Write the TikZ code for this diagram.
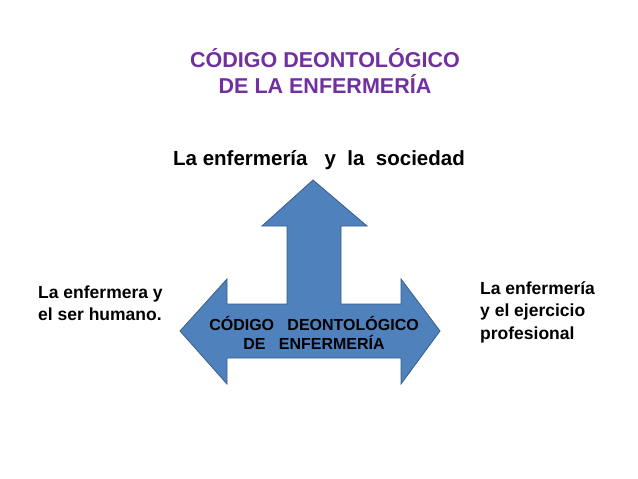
\documentclass[tikz,border=0pt]{standalone}
\usepackage{fontspec}
\setmainfont{Liberation Sans}
\begin{document}
\begin{tikzpicture}[x=1pt,y=-1pt,
  lbl/.style={font=\bfseries\fontsize{17.5}{22.5}\selectfont,align=left,anchor=west,inner sep=0},
  ttl/.style={font=\bfseries\fontsize{21.5}{26}\selectfont,align=center,inner sep=0}]
\useasboundingbox[fill=white] (0,0) rectangle (638,479);
\definecolor{arrfill}{HTML}{4F81BD}
\definecolor{arrline}{HTML}{385D8A}
\definecolor{tpurple}{HTML}{7030A0}
\node[ttl,text=tpurple] (title) at (325,71) {CÓDIGO DEONTOLÓGICO\\DE LA ENFERMERÍA};
\draw[fill=arrfill,draw=arrline,line width=0.8pt,line join=miter]
 (313,180) -- (367,226) -- (341,226) -- (341,304) -- (401,304) -- (401,279) -- (440,331)
 -- (401,384) -- (401,358) -- (227,358) -- (227,384) -- (180,331) -- (227,279) -- (227,304)
 -- (287,304) -- (287,226) -- (262,226) -- cycle;
\node[font=\bfseries\fontsize{16}{19}\selectfont,align=center,inner sep=0] (center) at (314,333) {CÓDIGO\ \ \ DEONTOLÓGICO\\DE\ \ \ ENFERMERÍA};
\node[font=\bfseries\fontsize{20.5}{24}\selectfont,inner sep=0] (top) at (319,160) {La enfermería\ \ \ y\ \ la\ \ sociedad};
\node[lbl] (left) at (38,303) {La enfermera y\\el ser humano.};
\node[lbl] (right) at (480,312) {La enfermería\\y el ejercicio\\profesional};
\end{tikzpicture}
\end{document}
